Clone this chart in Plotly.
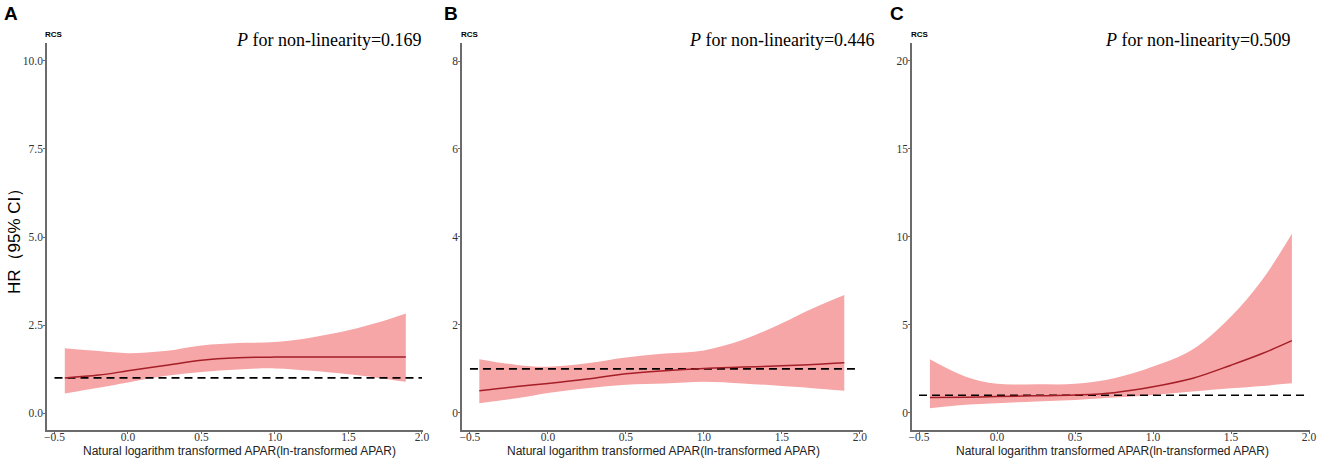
import plotly.graph_objects as go

# data
x_a = [-0.43, -0.2, 0.0, 0.25, 0.5, 0.75, 1.0, 1.25, 1.5, 1.7, 1.89]
hr_a = [1.0, 1.08, 1.2, 1.35, 1.5, 1.57, 1.59, 1.59, 1.59, 1.59, 1.59]
up_a = [1.84, 1.76, 1.70, 1.76, 1.92, 1.99, 2.02, 2.15, 2.35, 2.57, 2.83]
lo_a = [0.56, 0.72, 0.87, 1.05, 1.17, 1.24, 1.27, 1.20, 1.10, 1.00, 0.89]

x_b = [-0.44, -0.2, 0.0, 0.25, 0.5, 0.75, 1.0, 1.25, 1.5, 1.7, 1.9]
hr_b = [0.50, 0.60, 0.67, 0.77, 0.89, 0.96, 1.01, 1.04, 1.07, 1.10, 1.14]
up_b = [1.22, 1.09, 1.05, 1.13, 1.26, 1.35, 1.42, 1.66, 2.04, 2.38, 2.68]
lo_b = [0.22, 0.33, 0.45, 0.56, 0.64, 0.67, 0.71, 0.67, 0.61, 0.56, 0.50]

x_c = [-0.43, -0.2, 0.0, 0.25, 0.5, 0.75, 1.0, 1.25, 1.5, 1.7, 1.89]
hr_c = [0.87, 0.89, 0.93, 0.97, 1.02, 1.15, 1.48, 1.95, 2.71, 3.37, 4.10]
up_c = [3.05, 2.06, 1.65, 1.63, 1.65, 1.97, 2.63, 3.58, 5.47, 7.56, 10.17]
lo_c = [0.27, 0.46, 0.55, 0.65, 0.74, 0.87, 1.02, 1.21, 1.40, 1.53, 1.68]

ref_x = [-0.5, 2.0]
ref_hr = [1, 1]

panels = ['A', 'B', 'C']
p_values = ['0.169', '0.446', '0.509']
y_ticks = [[0, 2.5, 5, 7.5, 10], [0, 2, 4, 6, 8], [0, 5, 10, 15, 20]]
y_fmt = ['.1f', 'd', 'd']
x_ticks = [-0.5, 0.0, 0.5, 1.0, 1.5, 2.0]
x_title = 'Natural logarithm transformed APAR(ln-transformed APAR)'

W, H = 1325, 466


def px(v):
    return v / W


def py(v):
    return (H - v) / H


x_dom = [[47, 423], [462, 863], [912, 1310]]
x_rng = [[-0.551, 2.007], [-0.551, 2.02], [-0.545, 2.006]]
y_rng = [[-0.48, 10.51], [-0.39, 8.41], [-0.97, 21.0]]

band_col = 'rgba(246,166,166,1)'
line_col = 'rgb(165,30,40)'
axis_col = '#6b6b6b'
tick_font = dict(family='Liberation Serif', size=11.5, color='#333333')

fig = go.Figure()
data = [(x_a, hr_a, up_a, lo_a), (x_b, hr_b, up_b, lo_b), (x_c, hr_c, up_c, lo_c)]

for i, (xs, hr, up, lo) in enumerate(data):
    sfx = '' if i == 0 else str(i + 1)
    xa, ya = 'x' + sfx, 'y' + sfx
    fig.add_trace(go.Scatter(x=xs, y=up, mode='lines', line=dict(width=0, shape='spline'),
                             xaxis=xa, yaxis=ya, showlegend=False, hoverinfo='skip'))
    fig.add_trace(go.Scatter(x=xs, y=lo, mode='lines', line=dict(width=0, shape='spline'),
                             fill='tonexty', fillcolor=band_col,
                             xaxis=xa, yaxis=ya, showlegend=False, hoverinfo='skip'))
    fig.add_trace(go.Scatter(x=ref_x, y=ref_hr, mode='lines',
                             line=dict(color='black', width=1.6, dash='8px,5px'),
                             xaxis=xa, yaxis=ya, showlegend=False))
    fig.add_trace(go.Scatter(x=xs, y=hr, mode='lines',
                             line=dict(color=line_col, width=1.5, shape='spline'),
                             xaxis=xa, yaxis=ya, showlegend=False))

    axis_common = dict(showline=True, linecolor=axis_col, linewidth=1.5, ticks='outside',
                       ticklen=2, tickcolor=axis_col, showgrid=False, zeroline=False,
                       tickfont=tick_font, automargin=False, fixedrange=True)
    fig.update_layout({
        'xaxis' + sfx: dict(domain=[px(x_dom[i][0]), px(x_dom[i][1])], range=x_rng[i],
                            anchor=ya, tickvals=x_ticks, tickformat='.1f',
                            ticklabelstandoff=-7, **axis_common),
        'yaxis' + sfx: dict(domain=[py(430), py(43)], range=y_rng[i],
                            anchor=xa, tickvals=y_ticks[i], tickformat=y_fmt[i],
                            ticklabelstandoff=-2, **axis_common),
    })

    ann = dict(xref='paper', yref='paper', showarrow=False, xanchor='center', yanchor='middle')
    fig.add_annotation(text='<b>%s</b>' % panels[i], x=px([11, 451, 897][i]), y=py(13),
                       font=dict(family='Liberation Sans', size=19, color='black'), **ann)
    fig.add_annotation(text='<b>RCS</b>', x=px([54, 470, 920][i]), y=py(34),
                       font=dict(family='Liberation Sans', size=8, color='black'), **ann)
    fig.add_annotation(text='<i>P</i> for non-linearity=%s' % p_values[i],
                       x=px([329, 782, 1198][i]), y=py(40),
                       font=dict(family='Liberation Serif', size=18, color='black'), **ann)
    fig.add_annotation(text=x_title, x=px([240, 663, 1112][i]), y=py(451),
                       font=dict(family='Liberation Sans', size=12, color='#222222'), **ann)

fig.add_annotation(text='HR（95% CI）', x=px(15), y=py(237), textangle=-90,
                   xref='paper', yref='paper', showarrow=False, xanchor='center', yanchor='middle',
                   font=dict(family='Liberation Sans', size=17, color='black'))

fig.update_layout(width=W, height=H, margin=dict(l=0, r=0, t=0, b=0),
                  plot_bgcolor='white', paper_bgcolor='white')

# drop the default page margin so the figure sits at the window corner
fig.write_html("out.html", config=dict(displayModeBar=False),
               post_script="document.body.style.margin='0';")
